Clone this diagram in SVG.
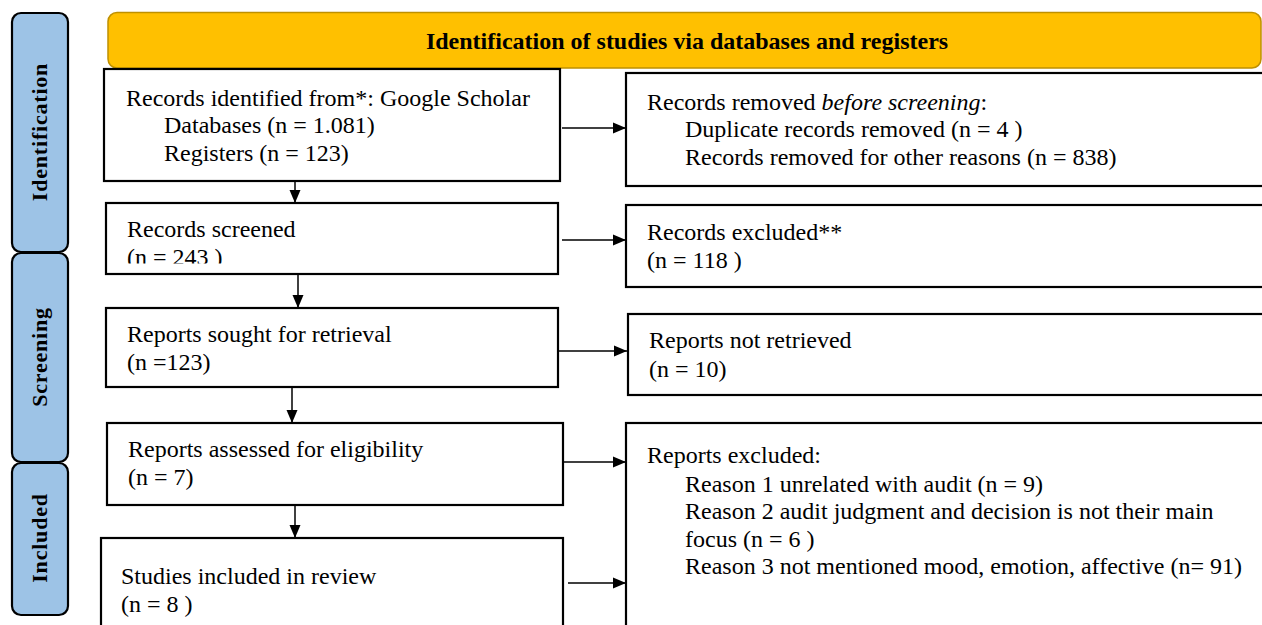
<svg xmlns="http://www.w3.org/2000/svg" width="1262" height="625" viewBox="0 0 1262 625">
<style>
.box{fill:#fff;stroke:#000;stroke-width:2.2}
.side{fill:#9DC3E6;stroke:#000;stroke-width:2.2}
.t{font-family:"Liberation Serif","Times New Roman",serif;font-size:24px;fill:#000}
.sl{font-family:"Liberation Serif","Times New Roman",serif;font-size:22px;font-weight:bold;letter-spacing:0.8px;fill:#000}
.hd{font-family:"Liberation Serif","Times New Roman",serif;font-size:24px;font-weight:bold;fill:#000}
.c{stroke:#000;stroke-width:1.5;fill:none}
</style>
<defs>
<marker id="ah" markerUnits="userSpaceOnUse" markerWidth="14" markerHeight="14" viewBox="0 0 14 14" refX="13" refY="7" orient="auto">
<path d="M0,1.5 L13,7 L0,12.5 Z" fill="#000"/>
</marker>
<clipPath id="clip243"><rect x="100" y="200" width="470" height="63.5"/></clipPath>
</defs>
<rect width="1262" height="625" fill="#fff"/>

<g id="side-identification">
<rect class="side" x="12" y="13" width="56" height="239" rx="9"/>
<text class="sl" transform="translate(47,132) rotate(-90)" text-anchor="middle">Identification</text>
</g>
<g id="side-screening">
<rect class="side" x="12" y="253" width="56" height="209" rx="9"/>
<text class="sl" transform="translate(47,357) rotate(-90)" text-anchor="middle">Screening</text>
</g>
<g id="side-included">
<rect class="side" x="12" y="463" width="56" height="152" rx="9"/>
<text class="sl" transform="translate(47,538) rotate(-90)" text-anchor="middle">Included</text>
</g>

<g id="header">
<rect x="108" y="12.5" width="1153" height="55.5" rx="9" fill="#FFC000" stroke="#BF9000" stroke-width="1.5"/>
<text class="hd" x="687" y="49" text-anchor="middle">Identification of studies via databases and registers</text>
</g>

<g id="records-identified">
<rect class="box" x="104" y="69" width="456" height="112"/>
<text class="t" x="126" y="106">Records identified from*: Google Scholar</text>
<text class="t" x="164" y="133">Databases (n = 1.081)</text>
<text class="t" x="164" y="161">Registers (n = 123)</text>
</g>

<g id="records-screened">
<rect class="box" x="106" y="203" width="452" height="71"/>
<text class="t" x="127" y="237">Records screened</text>
<text class="t" x="127" y="265" clip-path="url(#clip243)">(n = 243 )</text>
</g>

<g id="reports-sought">
<rect class="box" x="106" y="308" width="452" height="79"/>
<text class="t" x="127" y="342">Reports sought for retrieval</text>
<text class="t" x="127" y="370">(n =123)</text>
</g>

<g id="reports-assessed">
<rect class="box" x="107" y="423" width="456" height="82"/>
<text class="t" x="128" y="457">Reports assessed for eligibility</text>
<text class="t" x="128" y="485">(n = 7)</text>
</g>

<g id="studies-included">
<rect class="box" x="101" y="538" width="462" height="100"/>
<text class="t" x="121" y="584">Studies included in review</text>
<text class="t" x="121" y="612">(n = 8 )</text>
</g>

<g id="records-removed">
<rect class="box" x="626" y="73" width="650" height="113"/>
<text class="t" x="647" y="110">Records removed <tspan font-style="italic">before screening</tspan>:</text>
<text class="t" x="685" y="137">Duplicate records removed  (n = 4 )</text>
<text class="t" x="685" y="165">Records removed for other reasons (n = 838)</text>
</g>

<g id="records-excluded">
<rect class="box" x="626" y="205" width="650" height="82"/>
<text class="t" x="647" y="240">Records excluded**</text>
<text class="t" x="647" y="268">(n = 118 )</text>
</g>

<g id="reports-not-retrieved">
<rect class="box" x="628" y="314" width="650" height="81"/>
<text class="t" x="649" y="348">Reports not retrieved</text>
<text class="t" x="649" y="377">(n = 10)</text>
</g>

<g id="reports-excluded">
<rect class="box" x="626" y="423" width="650" height="220"/>
<text class="t" x="647" y="463">Reports excluded:</text>
<text class="t" x="685" y="492">Reason 1 unrelated with audit (n = 9)</text>
<text class="t" x="685" y="519">Reason 2 audit judgment and decision is not their main</text>
<text class="t" x="685" y="547">focus (n = 6 )</text>
<text class="t" x="685" y="574">Reason 3 not mentioned mood, emotion, affective (n= 91)</text>
</g>

<g id="connectors">
<line class="c" x1="295" y1="181" x2="295" y2="203" marker-end="url(#ah)"/>
<line class="c" x1="298" y1="274" x2="298" y2="308" marker-end="url(#ah)"/>
<line class="c" x1="292" y1="387" x2="292" y2="423" marker-end="url(#ah)"/>
<line class="c" x1="295" y1="505" x2="295" y2="538" marker-end="url(#ah)"/>
<line class="c" x1="562" y1="128" x2="626" y2="128" marker-end="url(#ah)"/>
<line class="c" x1="562" y1="240" x2="626" y2="240" marker-end="url(#ah)"/>
<line class="c" x1="559" y1="351" x2="627" y2="351" marker-end="url(#ah)"/>
<line class="c" x1="564" y1="462" x2="626" y2="462" marker-end="url(#ah)"/>
<line class="c" x1="568" y1="583" x2="626" y2="583" marker-end="url(#ah)"/>
</g>
</svg>
